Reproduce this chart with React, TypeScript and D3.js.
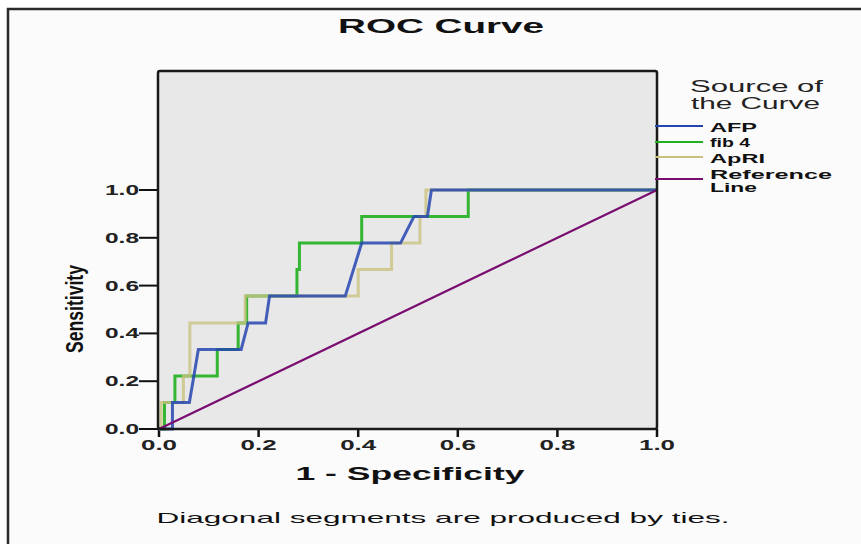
import React, { useEffect, useRef } from "react";
import * as d3 from "d3";

// 1 - specificity / sensitivity pairs (9 positive cases -> steps of 1/9)
const afpFpr = [0, 0.027, 0.027, 0.061, 0.079, 0.165, 0.179, 0.214, 0.222, 0.374, 0.407, 0.485, 0.512, 0.539, 0.547, 1];
const afpTpr = [0, 0, 0.111, 0.111, 0.333, 0.333, 0.444, 0.444, 0.556, 0.556, 0.778, 0.778, 0.889, 0.889, 1, 1];

const fib4Fpr = [0, 0.011, 0.011, 0.032, 0.032, 0.117, 0.117, 0.159, 0.159, 0.176, 0.176, 0.277, 0.277, 0.282, 0.282, 0.407, 0.407, 0.621, 0.621, 1];
const fib4Tpr = [0, 0, 0.111, 0.111, 0.222, 0.222, 0.333, 0.333, 0.444, 0.444, 0.556, 0.556, 0.667, 0.667, 0.778, 0.778, 0.889, 0.889, 1, 1];

const apriFpr = [0, 0.004, 0.004, 0.049, 0.049, 0.062, 0.062, 0.173, 0.173, 0.4, 0.4, 0.467, 0.467, 0.524, 0.524, 0.536, 0.536, 1];
const apriTpr = [0, 0, 0.111, 0.111, 0.222, 0.222, 0.444, 0.444, 0.556, 0.556, 0.667, 0.667, 0.778, 0.778, 0.889, 0.889, 1, 1];

const refFpr = [0, 1];
const refTpr = [0, 1];

const tickValues = [0, 0.2, 0.4, 0.6, 0.8, 1.0];
const legendLabels = ["AFP", "fib 4", "ApRI"];

function Chart() {
  const svgRef = useRef(null);

  useEffect(() => {
    const svg = d3.select(svgRef.current);
    svg.selectAll("*").remove();

    const W = 861;
    const H = 544;
    const plot = { left: 158, top: 71, right: 657, bottom: 429 };

    const x = d3.scaleLinear().domain([0, 1]).range([159, 657]);
    const y = d3.scaleLinear().domain([0, 1]).range([429, 190]);

    // page + frame
    svg.append("rect").attr("width", W).attr("height", H).attr("fill", "#ffffff");
    svg.append("rect").attr("x", 8).attr("y", 9).attr("width", W).attr("height", H).attr("fill", "#fbfbfb");
    svg.append("path")
      .attr("d", `M8,${H} L8,9 L${W},9`)
      .attr("fill", "none")
      .attr("stroke", "#2a2a2a")
      .attr("stroke-width", 2.5);

    const font = "Arial, 'Liberation Sans', sans-serif";

    // title
    svg.append("text")
      .attr("x", 441)
      .attr("y", 33)
      .attr("text-anchor", "middle")
      .attr("font-family", font)
      .attr("font-weight", "bold")
      .attr("font-size", 21)
      .attr("textLength", 206)
      .attr("lengthAdjust", "spacingAndGlyphs")
      .attr("fill", "#111")
      .text("ROC Curve");

    // plot background
    svg.append("rect")
      .attr("x", plot.left)
      .attr("y", plot.top)
      .attr("width", plot.right - plot.left)
      .attr("height", plot.bottom - plot.top)
      .attr("fill", "#e8e8e8");

    // y ticks
    const yg = svg.append("g");
    tickValues.forEach((t) => {
      yg.append("line")
        .attr("x1", 139).attr("x2", plot.left)
        .attr("y1", y(t)).attr("y2", y(t))
        .attr("stroke", "#111").attr("stroke-width", 2);
      yg.append("text")
        .attr("x", 139)
        .attr("y", y(t) + 5)
        .attr("text-anchor", "end")
        .attr("font-family", font)
        .attr("font-weight", "bold")
        .attr("font-size", 14)
        .attr("textLength", 34)
        .attr("lengthAdjust", "spacingAndGlyphs")
        .attr("fill", "#222")
        .text(d3.format(".1f")(t));
    });

    // x ticks
    const xg = svg.append("g");
    tickValues.forEach((t) => {
      xg.append("line")
        .attr("x1", x(t)).attr("x2", x(t))
        .attr("y1", plot.bottom).attr("y2", plot.bottom + 8)
        .attr("stroke", "#111").attr("stroke-width", 2.5);
      xg.append("text")
        .attr("x", x(t))
        .attr("y", 450)
        .attr("text-anchor", "middle")
        .attr("font-family", font)
        .attr("font-weight", "bold")
        .attr("font-size", 14)
        .attr("textLength", 36)
        .attr("lengthAdjust", "spacingAndGlyphs")
        .attr("fill", "#222")
        .text(d3.format(".1f")(t));
    });

    // curves
    const line = d3.line().x((d) => x(d[0])).y((d) => y(d[1]));
    const series = [
      { fpr: fib4Fpr, tpr: fib4Tpr, color: "#20b020", op: 0.9 },
      { fpr: apriFpr, tpr: apriTpr, color: "#c9c27f", op: 0.8 },
      { fpr: afpFpr, tpr: afpTpr, color: "#2445b0", op: 0.85 },
    ];
    series.forEach((s) => {
      svg.append("path")
        .datum(s.fpr.map((f, i) => [f, s.tpr[i]]))
        .attr("d", line)
        .attr("fill", "none")
        .attr("stroke", s.color)
        .attr("stroke-opacity", s.op)
        .attr("stroke-width", 3);
    });
    svg.append("path")
      .datum(refFpr.map((f, i) => [f, refTpr[i]]))
      .attr("d", line)
      .attr("fill", "none")
      .attr("stroke", "#7a0d70")
      .attr("stroke-width", 2.2);

    // plot border
    svg.append("rect")
      .attr("x", plot.left)
      .attr("y", plot.top)
      .attr("width", plot.right - plot.left)
      .attr("height", plot.bottom - plot.top)
      .attr("rx", 2)
      .attr("fill", "none")
      .attr("stroke", "#1a1a1a")
      .attr("stroke-width", 2.5);

    // axis titles
    svg.append("text")
      .attr("transform", "translate(83,309) scale(1.6,1) rotate(-90)")
      .attr("text-anchor", "middle")
      .attr("font-family", font)
      .attr("font-weight", "bold")
      .attr("font-size", 15)
      .attr("textLength", 88)
      .attr("lengthAdjust", "spacingAndGlyphs")
      .attr("fill", "#111")
      .text("Sensitivity");

    svg.append("text")
      .attr("x", 410)
      .attr("y", 480)
      .attr("text-anchor", "middle")
      .attr("font-family", font)
      .attr("font-weight", "bold")
      .attr("font-size", 18)
      .attr("textLength", 229)
      .attr("lengthAdjust", "spacingAndGlyphs")
      .attr("fill", "#111")
      .text("1 - Specificity");

    svg.append("text")
      .attr("x", 443)
      .attr("y", 523)
      .attr("text-anchor", "middle")
      .attr("font-family", font)
      .attr("font-size", 15)
      .attr("textLength", 573)
      .attr("lengthAdjust", "spacingAndGlyphs")
      .attr("fill", "#111")
      .text("Diagonal segments are produced by ties.");

    // legend
    const lg = svg.append("g");
    lg.append("text")
      .attr("x", 690).attr("y", 92)
      .attr("font-family", font).attr("font-size", 16)
      .attr("textLength", 133).attr("lengthAdjust", "spacingAndGlyphs")
      .attr("fill", "#222")
      .text("Source of");
    lg.append("text")
      .attr("x", 691).attr("y", 109)
      .attr("font-family", font).attr("font-size", 16)
      .attr("textLength", 129).attr("lengthAdjust", "spacingAndGlyphs")
      .attr("fill", "#222")
      .text("the Curve");

    const legendColors = ["#2445b0", "#20b020", "#c9c27f"];
    const legendY = [126, 142, 157];
    const legendBase = [132, 147, 163];
    const legendLen = [47, 40, 55];
    legendLabels.forEach((lab, i) => {
      lg.append("line")
        .attr("x1", 655).attr("x2", 703)
        .attr("y1", legendY[i]).attr("y2", legendY[i])
        .attr("stroke", legendColors[i]).attr("stroke-width", 2);
      lg.append("text")
        .attr("x", 710).attr("y", legendBase[i])
        .attr("font-family", font).attr("font-weight", "bold").attr("font-size", 13)
        .attr("textLength", legendLen[i]).attr("lengthAdjust", "spacingAndGlyphs")
        .attr("fill", "#111")
        .text(lab);
    });
    lg.append("line")
      .attr("x1", 655).attr("x2", 703)
      .attr("y1", 179).attr("y2", 179)
      .attr("stroke", "#7a0d70").attr("stroke-width", 2);
    lg.append("text")
      .attr("x", 710).attr("y", 179)
      .attr("font-family", font).attr("font-weight", "bold").attr("font-size", 12.5)
      .attr("textLength", 122).attr("lengthAdjust", "spacingAndGlyphs")
      .attr("fill", "#111")
      .text("Reference");
    lg.append("text")
      .attr("x", 710).attr("y", 192)
      .attr("font-family", font).attr("font-weight", "bold").attr("font-size", 12.5)
      .attr("textLength", 47).attr("lengthAdjust", "spacingAndGlyphs")
      .attr("fill", "#111")
      .text("Line");
  }, []);

  return (
    <svg
      ref={svgRef}
      width={861}
      height={544}
      style={{ position: "absolute", left: 0, top: 0, display: "block" }}
    />
  );
}

export default function App() {
  return <Chart />;
}
